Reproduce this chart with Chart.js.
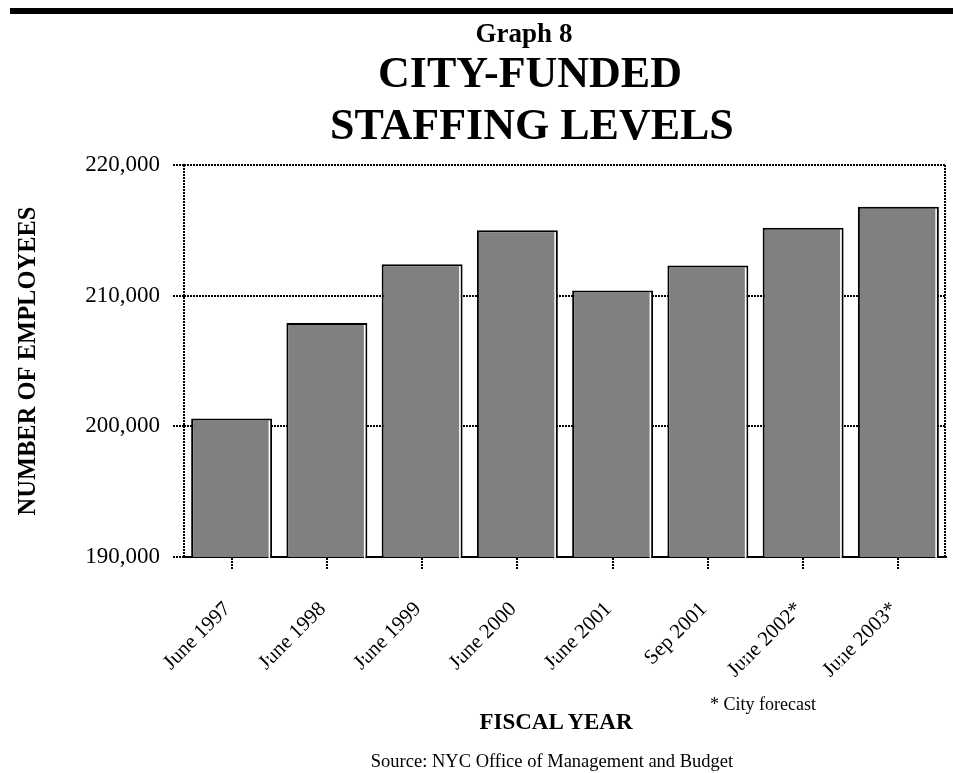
<!DOCTYPE html>
<html>
<head>
<meta charset="utf-8">
<title>City-Funded Staffing Levels</title>
<script src="https://cdn.jsdelivr.net/npm/chart.js@4.4.1/dist/chart.umd.min.js"></script>
<style>
  html, body { margin: 0; padding: 0; background: #fff; }
  #page {
    position: relative;
    width: 953px;
    height: 773px;
    font-family: "Liberation Serif", "Times New Roman", serif;
    color: #000;
  }
  #page canvas { position: absolute; left: 0; top: 0; }
  .rule { position: absolute; left: 10px; top: 8px; width: 943px; height: 6px; background: #000; }
  .txt { position: absolute; white-space: nowrap; line-height: 1; z-index: 2; }
  .heading { width: 400px; text-align: center; font-weight: bold; }
  #graphNo { left: 324px; top: 20px; font-size: 27px; }
  #graphTitle { left: 330px; top: 47px; font-size: 44px; line-height: 52px; }
  #axisTitleX { left: 456px; width: 200px; top: 710px; text-align: center; font-weight: bold; font-size: 23px; }
  #footnote { left: 710px; top: 695px; font-size: 18px; }
  #source { left: 352px; width: 400px; top: 752px; text-align: center; font-size: 18.5px; }
</style>
</head>
<body>
<div id="page">
  <canvas id="staffChart"></canvas>
  <div class="rule"></div>
  <div class="txt heading" id="graphNo">Graph 8</div>
  <div class="txt heading" id="graphTitle">CITY-FUNDED<br>STAFFING LEVELS</div>
  <div class="txt" id="axisTitleX">FISCAL YEAR</div>
  <div class="txt" id="footnote">* City forecast</div>
  <div class="txt" id="source">Source: NYC Office of Management and Budget</div>
</div>
<script>
const SERIF = "'Liberation Serif', 'Times New Roman', serif";

const periods = ["June 1997", "June 1998", "June 1999", "June 2000", "June 2001", "Sep 2001", "June 2002*", "June 2003*"];
const employees = [200600, 207900, 212400, 215000, 210400, 212300, 215200, 216800];
const yTicks = [190000, 200000, 210000, 220000];

// dotted left/right frame of the plot, and a thin white edge inside the right and bottom of each bar
const barFrame = {
  id: "barFrame",
  beforeDatasetsDraw(chart) {
    const { ctx, chartArea } = chart;
    ctx.save();
    ctx.strokeStyle = "#000";
    ctx.lineWidth = 2;
    ctx.setLineDash([2, 1]);
    ctx.beginPath();
    ctx.moveTo(chartArea.left, chartArea.top);
    ctx.lineTo(chartArea.left, chartArea.bottom);
    ctx.moveTo(chartArea.right - 1, chartArea.top);
    ctx.lineTo(chartArea.right - 1, chartArea.bottom);
    ctx.stroke();
    ctx.restore();
  },
  afterDatasetsDraw(chart) {
    const { ctx } = chart;
    ctx.save();
    ctx.strokeStyle = "#fff";
    ctx.lineWidth = 1.5;
    chart.getDatasetMeta(0).data.forEach((bar) => {
      const { x, y, base, width } = bar.getProps(["x", "y", "base", "width"], true);
      const right = x + width / 2 - 2.75;
      ctx.beginPath();
      ctx.moveTo(right, y + 2);
      ctx.lineTo(right, base - 1.25);
      ctx.lineTo(x - width / 2 + 2, base - 1.25);
      ctx.stroke();
    });
    ctx.restore();
  }
};

new Chart(document.getElementById("staffChart"), {
  type: "bar",
  data: {
    labels: periods,
    datasets: [{
      data: employees,
      backgroundColor: "#808080",
      borderColor: "#000",
      borderWidth: 2,
      categoryPercentage: 1,
      barPercentage: 0.85
    }]
  },
  options: {
    responsive: true,
    maintainAspectRatio: false,
    animation: false,
    layout: { padding: { top: 165, right: 7, bottom: 0, left: 0 } },
    plugins: {
      legend: { display: false },
      tooltip: { enabled: false }
    },
    scales: {
      x: {
        afterFit(scale) { scale.height = 216; },
        grid: {
          drawOnChartArea: false,
          offset: false,
          color: "#000",
          lineWidth: 2,
          tickLength: 12,
          tickColor: "#000",
          tickBorderDash: [2, 1]
        },
        border: { color: "#000", width: 2 },
        ticks: {
          autoSkip: false,
          minRotation: 45,
          maxRotation: 45,
          padding: 28,
          labelOffset: -4,
          color: "#000",
          font: { family: SERIF, size: 21 }
        }
      },
      y: {
        min: yTicks[0],
        max: yTicks[yTicks.length - 1],
        afterFit(scale) { scale.width = 184; },
        afterBuildTicks(scale) { scale.ticks = yTicks.map((value) => ({ value })); },
        grid: {
          color: "#000",
          lineWidth: 2,
          tickLength: 11,
          tickColor: "#000",
          tickBorderDash: [2, 1]
        },
        border: { display: false, dash: [2, 1] },
        ticks: {
          padding: 13,
          color: "#000",
          font: { family: SERIF, size: 23 },
          callback: (value) => value.toLocaleString("en-US")
        },
        title: {
          display: true,
          text: "NUMBER OF EMPLOYEES",
          color: "#000",
          padding: { top: 14, bottom: 0 },
          font: { family: SERIF, size: 24.5, weight: "bold" }
        }
      }
    }
  },
  plugins: [barFrame]
});
</script>
</body>
</html>
